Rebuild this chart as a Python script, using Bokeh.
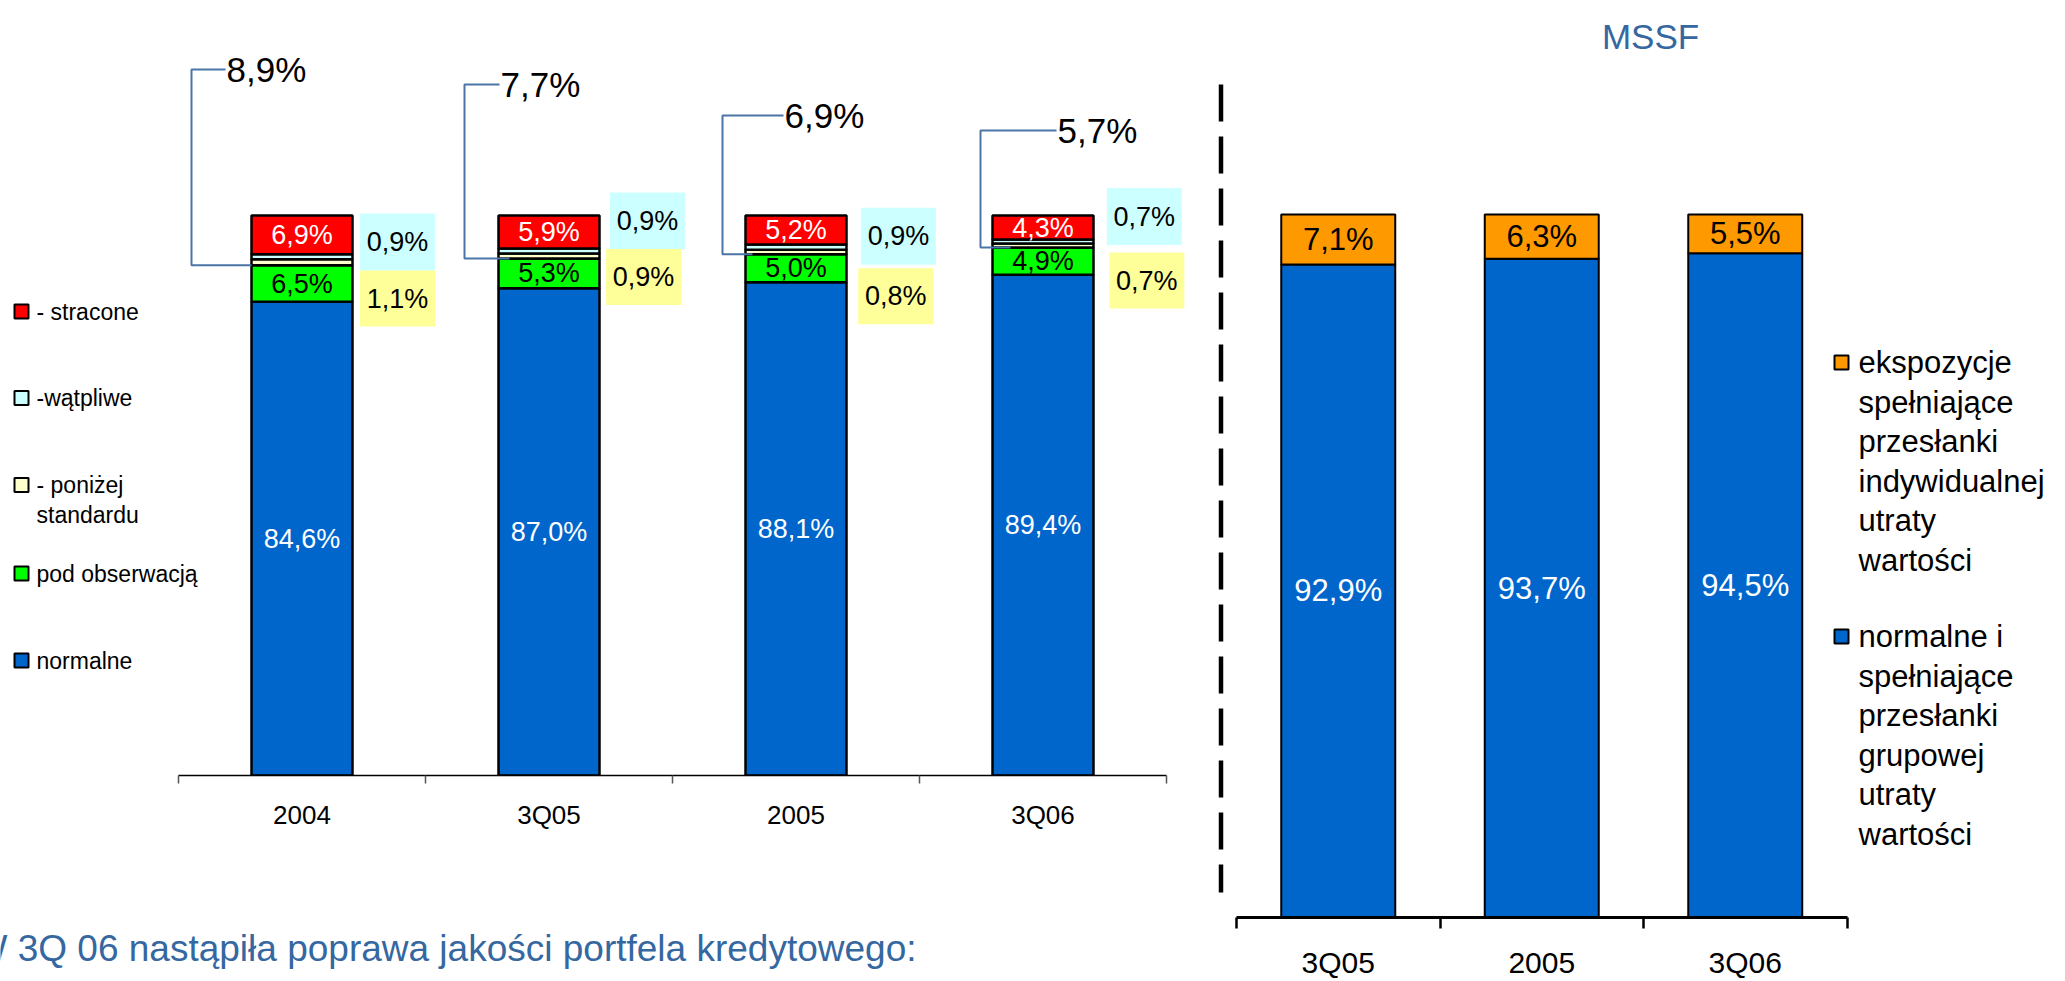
import numpy as np
from bokeh.plotting import figure
from bokeh.models import ColumnDataSource, FixedTicker, Label
from bokeh.core.properties import value
from bokeh.embed import file_html
from bokeh.resources import INLINE

# ---------------- data ----------------
left_categories = ["2004", "3Q05", "2005", "3Q06"]
normalne = [84.6, 87.0, 88.1, 89.4]
pod_obserwacja = [6.5, 5.3, 5.0, 4.9]
ponizej_standardu = [1.1, 0.9, 0.8, 0.7]
watpliwe = [0.9, 0.9, 0.9, 0.7]
stracone = [6.9, 5.9, 5.2, 4.3]
npl_total = [8.9, 7.7, 6.9, 5.7]

left_legend = ["- stracone", "-wątpliwe", "- poniżej\nstandardu", "pod obserwacją", "normalne"]

right_categories = ["3Q05", "2005", "3Q06"]
grupowa = [92.9, 93.7, 94.5]
indywidualna = [7.1, 6.3, 5.5]

right_legend = ["ekspozycje\nspełniające\nprzesłanki\nindywidualnej\nutraty\nwartości",
                "normalne i\nspełniające\nprzesłanki\ngrupowej\nutraty\nwartości"]

title_right = "MSSF"
bottom_text = "W 3Q 06 nastąpiła poprawa jakości portfela kredytowego:"

# ---------------- style / layout ----------------
FONT = "Liberation Sans"
BLUE, GREEN, YEL, CYAN, RED, ORANGE = "#0066CC", "#00FF00", "#FFFFCC", "#CCFFFF", "#FF0000", "#FF9900"
BOX_CYAN, BOX_YEL = "#CCFFFF", "#FFFF99"
TXT_BLUE = "#3567a0"
CALLOUT = "#4a75a5"

WIN_W, WIN_H = 2065, 981
W1, H1 = 1190, 850
W2, H2 = WIN_W - W1, WIN_H
H3, TOP3 = 76, 905


def fmt(v):
    return f"{v:.1f}%".replace(".", ",")


def bare(p):
    p.outline_line_color = None
    p.grid.visible = False
    p.background_fill_color = "white"
    p.border_fill_color = "white"


# left chart pixel geometry (window coordinates)
L_TICK0, L_UNIT = 178.0, 247.0
L_AXIS_Y, L_PX = 775.0, 5.6
L_BAR_W = 101.0


def lx(px):
    return (np.asarray(px, dtype=float) - L_TICK0) / L_UNIT


def ly(py):
    return (L_AXIS_Y - np.asarray(py, dtype=float)) / L_PX


p1 = figure(width=W1, height=H1, x_range=(float(lx(0)), float(lx(W1))),
            y_range=(0, float(ly(0))), output_backend="svg", toolbar_location=None,
            y_axis_location=None, min_border_left=0, min_border_right=0, min_border_top=0,
            min_border_bottom=int(H1 - L_AXIS_Y))
bare(p1)

n = len(left_categories)
x1 = np.arange(n) + 0.5
src1 = ColumnDataSource(dict(x=x1, normalne=normalne, pod=pod_obserwacja, ponizej=ponizej_standardu,
                             watpliwe=watpliwe, stracone=stracone))
p1.vbar_stack(["normalne", "pod", "ponizej", "watpliwe", "stracone"], x="x", width=L_BAR_W / L_UNIT,
              color=[BLUE, GREEN, YEL, CYAN, RED], line_color="black", line_width=2.5, source=src1)

nrm = np.array(normalne)
pod = np.array(pod_obserwacja)
stc = np.array(stracone)
top_all = nrm + pod + np.array(ponizej_standardu) + np.array(watpliwe) + stc

txt_kw = dict(text_align="center", text_baseline="middle", text_font=value(FONT))
p1.text(x=x1, y=nrm / 2, text=[fmt(v) for v in normalne], text_color="white", text_font_size="27px", **txt_kw)
p1.text(x=x1, y=nrm + pod / 2, text=[fmt(v) for v in pod_obserwacja], text_color="black",
        text_font_size="27px", **txt_kw)
p1.text(x=x1, y=top_all - stc / 2, text=[fmt(v) for v in stracone], text_color="white",
        text_font_size="27px", **txt_kw)

# side boxes (wątpliwe / poniżej standardu)
BAR_TOP_PX = L_AXIS_Y - 100 * L_PX
bar_center_px = L_TICK0 + x1 * L_UNIT
bar_right_px = bar_center_px + L_BAR_W / 2
bar_left_px = bar_center_px - L_BAR_W / 2
BOX_W = 75
cyan_dx = np.array([7.5, 10.5, 14.4, 13.3])
cyan_dy = np.array([26.5, 5.6, 20.8, 1.0])
yel_dx = np.array([7.5, 6.6, 11.7, 15.8])
yel_dy = np.array([83.0, 61.6, 80.7, 65.0])
cx = lx(bar_right_px + cyan_dx + BOX_W / 2)
cy = ly(BAR_TOP_PX + cyan_dy)
yx = lx(bar_right_px + yel_dx + BOX_W / 2)
yy = ly(BAR_TOP_PX + yel_dy)
p1.rect(x=cx, y=cy, width=BOX_W, height=57, width_units="screen", height_units="screen",
        fill_color=BOX_CYAN, line_color=None)
p1.rect(x=yx, y=yy, width=BOX_W, height=56, width_units="screen", height_units="screen",
        fill_color=BOX_YEL, line_color=None)
p1.text(x=cx, y=cy, text=[fmt(v) for v in watpliwe], text_color="black", text_font_size="27px", **txt_kw)
p1.text(x=yx, y=yy, text=[fmt(v) for v in ponizej_standardu], text_color="black",
        text_font_size="27px", **txt_kw)

# callouts with total of non-performing loans
vert_dx = np.array([-60.0, -34.0, -23.0, -12.0])
lab_dx = np.array([-26.0, 1.0, 38.0, 64.0])
end_dx = np.array([0.0, 11.0, 7.0, 18.0])
rise = np.array([146.0, 131.0, 100.0, 85.0])
yb = 100 - np.array(npl_total)
yt = ly(BAR_TOP_PX - rise)
xs, ys = [], []
for i in range(n):
    xs.append([float(lx(bar_left_px[i] + end_dx[i])), float(lx(bar_left_px[i] + vert_dx[i])),
               float(lx(bar_left_px[i] + vert_dx[i])), float(lx(bar_left_px[i] + lab_dx[i]))])
    ys.append([float(yb[i]), float(yb[i]), float(yt[i]), float(yt[i])])
p1.multi_line(xs=xs, ys=ys, line_color=CALLOUT, line_width=2)
p1.text(x=lx(bar_left_px + lab_dx + 1), y=yt, text=[fmt(v) for v in npl_total], text_color="black",
        text_font_size="35px", text_align="left", text_baseline="middle", text_font=value(FONT))

# left legend
leg_rows_px = [311.0, 397.5, 484.5, 573.0, 660.0]
p1.scatter(x=[float(lx(21))] * 5, y=ly(leg_rows_px), marker="square", size=14,
           fill_color=[RED, CYAN, YEL, GREEN, BLUE], line_color="black", line_width=2)
lt_x, lt_y, lt_t = [], [], []
for lab, rpx in zip(left_legend, leg_rows_px):
    for j, line in enumerate(lab.split("\n")):
        lt_x.append(float(lx(36)))
        lt_y.append(float(ly(rpx + 30 * j)))
        lt_t.append(line)
p1.text(x=lt_x, y=lt_y, text=lt_t, text_color="black", text_font_size="23px", text_align="left",
        text_baseline="middle", text_font=value(FONT))

ax1 = p1.xaxis[0]
ax1.ticker = FixedTicker(ticks=list(x1), minor_ticks=list(range(n + 1)))
ax1.major_label_overrides = {float(v): c for v, c in zip(x1, left_categories)}
ax1.bounds = (0, n)
ax1.axis_line_color = "black"
ax1.axis_line_width = 1.5
ax1.major_tick_out = 0
ax1.major_tick_in = 0
ax1.minor_tick_in = 0
ax1.minor_tick_out = 8
ax1.minor_tick_line_color = "#555555"
ax1.minor_tick_line_width = 1.5
ax1.major_label_text_font = FONT
ax1.major_label_text_font_size = "26px"
ax1.major_label_text_color = "black"
ax1.major_label_standoff = 16

# ---------------- bottom commentary (own canvas, window pixel coordinates) ----------------
p3 = figure(width=W1, height=H3, x_range=(0, W1), y_range=(TOP3 + H3, TOP3), output_backend="svg",
            toolbar_location=None, x_axis_location=None, y_axis_location=None,
            min_border_left=0, min_border_right=0, min_border_top=0, min_border_bottom=0)
bare(p3)
p3.add_layout(Label(x=-28, y=948, text=bottom_text, text_color=TXT_BLUE,
                    text_font_size="37px", text_font=FONT, text_align="left", text_baseline="middle"))
p3.styles = {"position": "absolute", "left": "0px", "top": f"{TOP3}px"}

# ---------------- right chart (MSSF) ----------------
R_LEFT = W1
R_TICK0, R_UNIT = 1236.0, 203.5
R_AXIS_Y, R_PX = 917.0, 7.03
R_BAR_W = 114.0


def rx(px):
    return (np.asarray(px, dtype=float) - R_TICK0) / R_UNIT


def ry(py):
    return (R_AXIS_Y - np.asarray(py, dtype=float)) / R_PX


p2 = figure(width=W2, height=H2, x_range=(float(rx(R_LEFT)), float(rx(R_LEFT + W2))),
            y_range=(0, float(ry(0))), output_backend="svg", toolbar_location=None,
            y_axis_location=None, min_border_left=0, min_border_right=0, min_border_top=0,
            min_border_bottom=int(H2 - R_AXIS_Y))
bare(p2)
p2.styles = {"position": "absolute", "left": f"{R_LEFT}px", "top": "0px"}

m = len(right_categories)
x2 = np.arange(m) + 0.5
src2 = ColumnDataSource(dict(x=x2, grupowa=grupowa, indywidualna=indywidualna))
p2.vbar_stack(["grupowa", "indywidualna"], x="x", width=R_BAR_W / R_UNIT, color=[BLUE, ORANGE],
              line_color="black", line_width=2, source=src2)
g = np.array(grupowa)
ind = np.array(indywidualna)
p2.text(x=x2, y=g / 2, text=[fmt(v) for v in grupowa], text_color="white", text_font_size="31px", **txt_kw)
p2.text(x=x2, y=g + ind / 2, text=[fmt(v) for v in indywidualna], text_color="black",
        text_font_size="31px", **txt_kw)

# dashed separator
p2.segment(x0=[float(rx(1220.5))], y0=[float(ry(84))], x1=[float(rx(1220.5))], y1=[float(ry(892))],
           line_color="black", line_width=4.5, line_dash="37 15")

p2.add_layout(Label(x=float(rx(1650)), y=float(ry(36)), text=title_right, text_color=TXT_BLUE,
                    text_font_size="35px", text_font=FONT, text_align="center", text_baseline="middle"))

# right legend
r_rows_px = [362.0, 636.0]
p2.scatter(x=[float(rx(1841))] * 2, y=ry(r_rows_px), marker="square", size=14,
           fill_color=[ORANGE, BLUE], line_color="black", line_width=2)
rt_x, rt_y, rt_t = [], [], []
for lab, rpx in zip(right_legend, r_rows_px):
    for j, line in enumerate(lab.split("\n")):
        rt_x.append(float(rx(1858)))
        rt_y.append(float(ry(rpx + 39.5 * j)))
        rt_t.append(line)
p2.text(x=rt_x, y=rt_y, text=rt_t, text_color="black", text_font_size="31px", text_align="left",
        text_baseline="middle", text_font=value(FONT))

ax2 = p2.xaxis[0]
ax2.ticker = FixedTicker(ticks=list(x2), minor_ticks=list(range(m + 1)))
ax2.major_label_overrides = {float(v): c for v, c in zip(x2, right_categories)}
ax2.bounds = (0, m)
ax2.axis_line_color = "black"
ax2.axis_line_width = 3
ax2.major_tick_out = 0
ax2.major_tick_in = 0
ax2.minor_tick_in = 0
ax2.minor_tick_out = 11
ax2.minor_tick_line_color = "black"
ax2.minor_tick_line_width = 2.5
ax2.major_label_text_font = FONT
ax2.major_label_text_font_size = "30px"
ax2.major_label_text_color = "black"
ax2.major_label_standoff = 17

open("out.html", "w").write(file_html([p1, p2, p3], INLINE))
